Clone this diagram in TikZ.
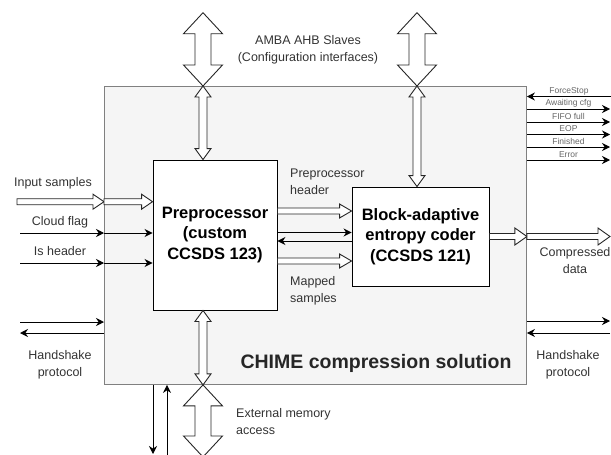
\documentclass[tikz,border=0pt]{standalone}
\usepackage{fontspec}
\setmainfont{Liberation Sans}
\usetikzlibrary{arrows.meta,calc}

\tikzset{
  hollow/.style={draw=black!85, fill=white, line width=0.9pt, line join=miter},
  sig/.style={draw=black, line width=1pt, -{Stealth[length=8pt,width=8pt]}},
  lbl/.style={text=black!80, font=\fontsize{12.5}{17}\selectfont, align=center, inner sep=0pt},
  small/.style={text=black!60, font=\fontsize{8.5}{9}\selectfont, inner sep=0pt},
  blk/.style={draw=black, fill=white, line width=0.9pt, font=\bfseries\fontsize{16.5}{20.5}\selectfont, align=center, inner sep=0pt},
}

% vertical hollow double arrow: #1 top point, #2 bottom point, half shaft, half head, head length
\newcommand{\vdbl}[5]{%
  \draw[hollow] let \p1=(#1), \p2=(#2) in
    (\x1,\y1) -- ({\x1+#4pt},{\y1-#5pt}) -- ({\x1+#3pt},{\y1-#5pt}) -- ({\x1+#3pt},{\y2+#5pt})
    -- ({\x1+#4pt},{\y2+#5pt}) -- (\x1,\y2) -- ({\x1-#4pt},{\y2+#5pt}) -- ({\x1-#3pt},{\y2+#5pt})
    -- ({\x1-#3pt},{\y1-#5pt}) -- ({\x1-#4pt},{\y1-#5pt}) -- cycle;}
% horizontal hollow single arrow, left to right
\newcommand{\hsgl}[5]{%
  \draw[hollow] let \p1=(#1), \p2=(#2) in
    (\x1,{\y1+#3pt}) -- ({\x2-#5pt},{\y1+#3pt}) -- ({\x2-#5pt},{\y1+#4pt}) -- (\x2,\y1)
    -- ({\x2-#5pt},{\y1-#4pt}) -- ({\x2-#5pt},{\y1-#3pt}) -- (\x1,{\y1-#3pt}) -- cycle;}

\begin{document}
\begin{tikzpicture}[x=1pt,y=-1pt]
\useasboundingbox (0,0) rectangle (611,455);

% main container
\node[draw=black!50, fill=black!4, line width=0.9pt, minimum width=422pt, minimum height=298pt,
      anchor=north west, inner sep=0pt] (sys) at (104,86) {};

% blocks
\node[blk, minimum width=124pt, minimum height=150pt] (pre) at (215,235) {Preprocessor\\(custom\\CCSDS 123)};
\node[blk, minimum width=137pt, minimum height=99pt] (bac) at (420.5,236.5) {Block-adaptive\\entropy coder\\(CCSDS 121)};

% AMBA interfaces
\coordinate (amL) at (203,12.7);
\coordinate (amR) at (417,12.7);
\vdbl{amL}{amL |- sys.north}{8}{19.5}{21}
\vdbl{amR}{amR |- sys.north}{8}{19.5}{21}
\vdbl{amL |- sys.north}{amL |- pre.north}{4}{8}{11}
\vdbl{amR |- sys.north}{amR |- bac.north}{4}{8}{11}

% external memory
\coordinate (emB) at (203,457);
\vdbl{amL |- pre.south}{amL |- sys.south}{4}{8}{11}
\vdbl{amL |- sys.south}{emB}{8}{19.5}{21}

% left inputs
\coordinate (inS) at (17,201.7);
\hsgl{inS}{inS -| sys.west}{3}{7.5}{11}
\hsgl{inS -| sys.west}{inS -| pre.west}{3}{7.5}{11}
\coordinate (cf) at (20,233);
\draw[sig] (cf) -- (cf -| sys.west);
\draw[sig] (cf -| sys.west) -- (cf -| pre.west);
\coordinate (ih) at (20,263);
\draw[sig] (ih) -- (ih -| sys.west);
\draw[sig] (ih -| sys.west) -- (ih -| pre.west);

% between blocks
\coordinate (mh) at (300,211);
\coordinate (m1) at (300,232.5);
\coordinate (m2) at (300,241);
\coordinate (ms) at (300,261);
\hsgl{mh -| pre.east}{mh -| bac.west}{3}{7}{12}
\draw[sig] (m1 -| pre.east) -- (m1 -| bac.west);
\draw[sig] (m2 -| bac.west) -- (m2 -| pre.east);
\hsgl{ms -| pre.east}{ms -| bac.west}{3}{7}{12}

% compressed data
\coordinate (cd) at (610,236.5);
\hsgl{bac.east}{bac.east -| sys.east}{3}{8.5}{12}
\hsgl{bac.east -| sys.east}{cd}{3}{8.5}{12}

% status signals
\coordinate (fs) at (611,96.5);
\draw[sig] (fs) -- (fs -| sys.east);
\node[small] (lfs) at ($(fs -| sys.east)!0.5!(fs)+(0,-5.5)$) {ForceStop};
\foreach \yy/\txt [count=\i] in {109/Awaiting cfg, 122/FIFO full, 134.5/EOP, 147/Finished, 160/Error}{
  \coordinate (st\i) at (610,\yy);
  \draw[sig] (st\i -| sys.east) -- (st\i);
  \node[small] (lst\i) at ($(st\i -| sys.east)!0.5!(st\i)+(0,-5.5)$) {\txt};
}

% handshakes
\coordinate (hl1) at (20,322);
\coordinate (hl2) at (20,333);
\draw[sig] (hl1) -- (hl1 -| sys.west);
\draw[sig] (hl2 -| sys.west) -- (hl2);
\coordinate (hr1) at (610,321);
\coordinate (hr2) at (610,333);
\draw[sig] (hr1 -| sys.east) -- (hr1);
\draw[sig] (hr2) -- (hr2 -| sys.east);

% bottom thin arrows
\coordinate (bd) at (153,454);
\coordinate (bu) at (167,456);
\draw[sig] (bd |- sys.south) -- (bd);
\draw[sig] (bu) -- (bu |- sys.south);

% labels
\node[lbl] (amba) at (308,50) {AMBA AHB Slaves\\(Configuration interfaces)};
\node[lbl] (lin) at (53,183) {Input samples};
\node[lbl] (lcf) at (60,222) {Cloud flag};
\node[lbl] (lih) at (60,251) {Is header};
\node[lbl, align=left, anchor=west] (lph) at (290,181.5) {Preprocessor\\header};
\node[lbl, align=left, anchor=west] (lms) at (290,290.5) {Mapped\\samples};
\node[lbl] (lcd) at (575,261) {Compressed\\data};
\node[lbl] (lhl) at (60,364.5) {Handshake\\protocol};
\node[lbl] (lhr) at (568,365) {Handshake\\protocol};
\node[lbl, align=left, anchor=west] (lem) at (236,421.5) {External memory\\access};
\node[font=\bfseries\fontsize{19.5}{22}\selectfont, text=black!85, inner sep=0pt] (chime) at (376,363) {CHIME compression solution};
\end{tikzpicture}
\end{document}
